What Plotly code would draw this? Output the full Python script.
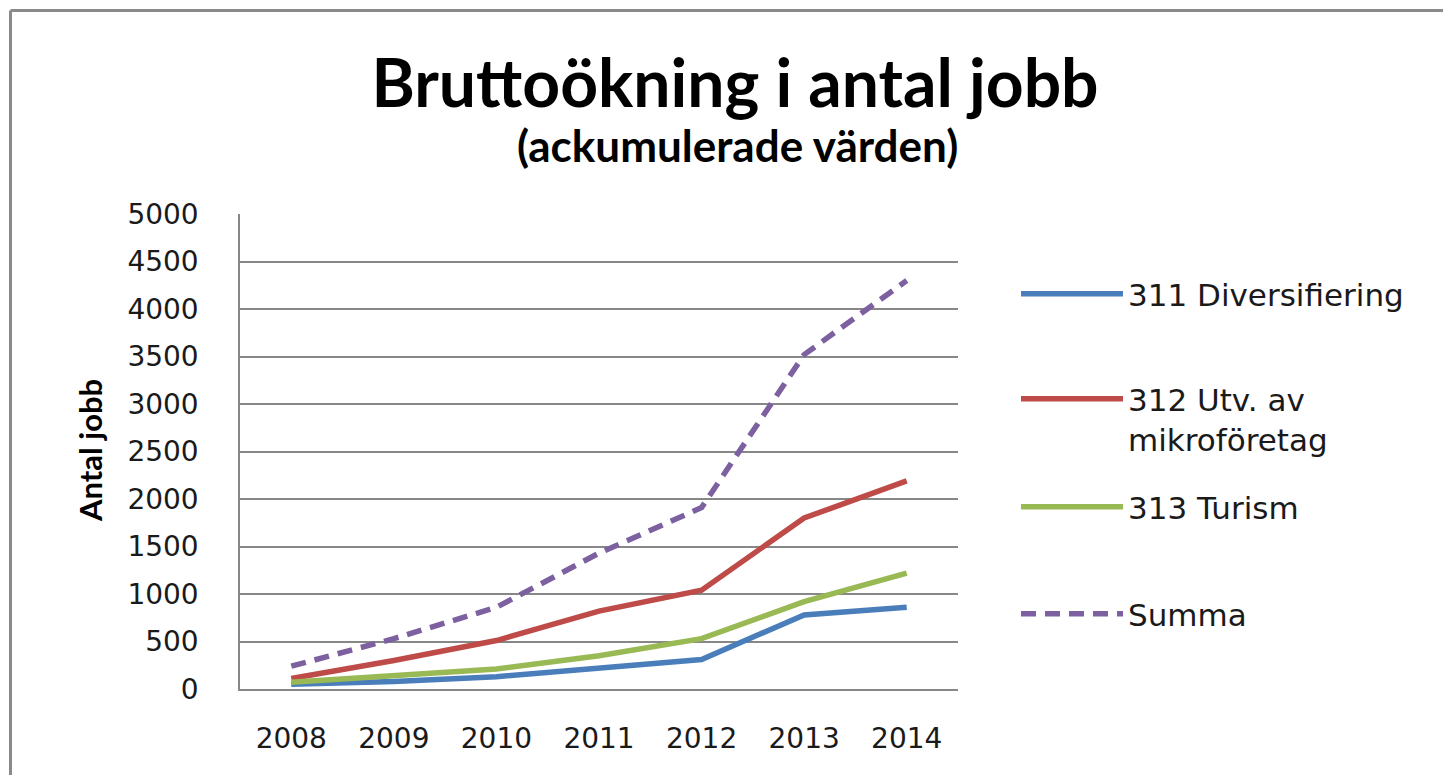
import plotly.graph_objects as go

years = ["2008", "2009", "2010", "2011", "2012", "2013", "2014"]
diversifiering = [50, 80, 130, 220, 310, 780, 860]
mikroforetag = [110, 300, 510, 820, 1040, 1800, 2190]
turism = [70, 140, 210, 350, 530, 920, 1220]
summa = [240, 530, 860, 1430, 1910, 3520, 4300]

series_names = ["311 Diversifiering", "312 Utv. av<br>mikroföretag", "313 Turism", "Summa"]
series_values = [diversifiering, mikroforetag, turism, summa]
colors = ["#4A7EBB", "#BE4B48", "#98B954", "#7D60A0"]
dashes = ["solid", "solid", "solid", "15px,9px"]
legend_ids = ["legend", "legend2", "legend3", "legend4"]
legend_tops = [267, 372, 480, 587]

W, H = 1443, 775
L, R, T, B = 240, 958, 214, 689

def px(x):
    return (x - L) / (R - L)

def py(y):
    return (B - y) / (B - T)

TFONT = "Lato"
FONT = "DejaVu Sans"
TXT = "#1a1a1a"

fig = go.Figure()
for i, (name, vals) in enumerate(zip(series_names, series_values)):
    fig.add_trace(go.Scatter(
        x=years, y=vals, name=name, mode="lines",
        line=dict(color=colors[i], width=5.5, dash=dashes[i]),
        legend=legend_ids[i],
    ))

grid = "#878787"
layout_legends = {}
for lid, top in zip(legend_ids, legend_tops):
    layout_legends[lid] = dict(x=px(1016), y=py(top), xanchor="left", yanchor="top",
                               itemwidth=102, valign="top",
                               font=dict(family=FONT, size=31, color=TXT),
                               bgcolor="rgba(0,0,0,0)")

fig.update_layout(
    width=W, height=H,
    margin=dict(l=L, r=W - R, t=T, b=H - B, autoexpand=False),
    paper_bgcolor="white", plot_bgcolor="white",
    font=dict(family=FONT, color=TXT, size=28),
    title=dict(text="<b>Bruttoökning i antal jobb</b>", x=px(735), xanchor="center",
               xref="paper", y=1 - 84 / H, yanchor="middle",
               font=dict(family=TFONT, size=66, color="black")),
    xaxis=dict(type="category", range=[-0.5, 6.5], showline=True, linecolor=grid,
               linewidth=1.5, showgrid=False, ticks="", ticklabelstandoff=24,
               tickfont=dict(family=FONT, size=28, color=TXT), fixedrange=True),
    yaxis=dict(range=[0, 5000], dtick=500, showline=True, linecolor=grid, linewidth=1.5,
               showgrid=True, gridcolor=grid, gridwidth=1.5, ticks="",
               ticklabelstandoff=34, tickfont=dict(family=FONT, size=28, color=TXT),
               zeroline=False, fixedrange=True),
    showlegend=True,
    **layout_legends,
)

fig.add_annotation(text="<b>(ackumulerade värden)</b>", xref="paper", yref="paper",
                   x=px(737), y=py(145), xanchor="center", yanchor="middle",
                   showarrow=False, font=dict(family=TFONT, size=44, color="black"))
fig.add_annotation(text="<b>Antal jobb</b>", xref="paper", yref="paper",
                   x=px(90), y=py(451), xanchor="center", yanchor="middle",
                   textangle=-90, showarrow=False,
                   font=dict(family=TFONT, size=31, color="black"))

# outer chart frame
fig.add_shape(type="line", xref="paper", yref="paper", x0=px(10.5), y0=py(10.5),
              x1=px(W + 20), y1=py(10.5), line=dict(color="#8a8a8a", width=3))
fig.add_shape(type="line", xref="paper", yref="paper", x0=px(10.5), y0=py(10.5),
              x1=px(10.5), y1=py(H + 20), line=dict(color="#8a8a8a", width=3))

fig.write_html("out.html", config={"displayModeBar": False},
               post_script="document.body.style.margin='0';document.body.style.overflow='hidden';")
